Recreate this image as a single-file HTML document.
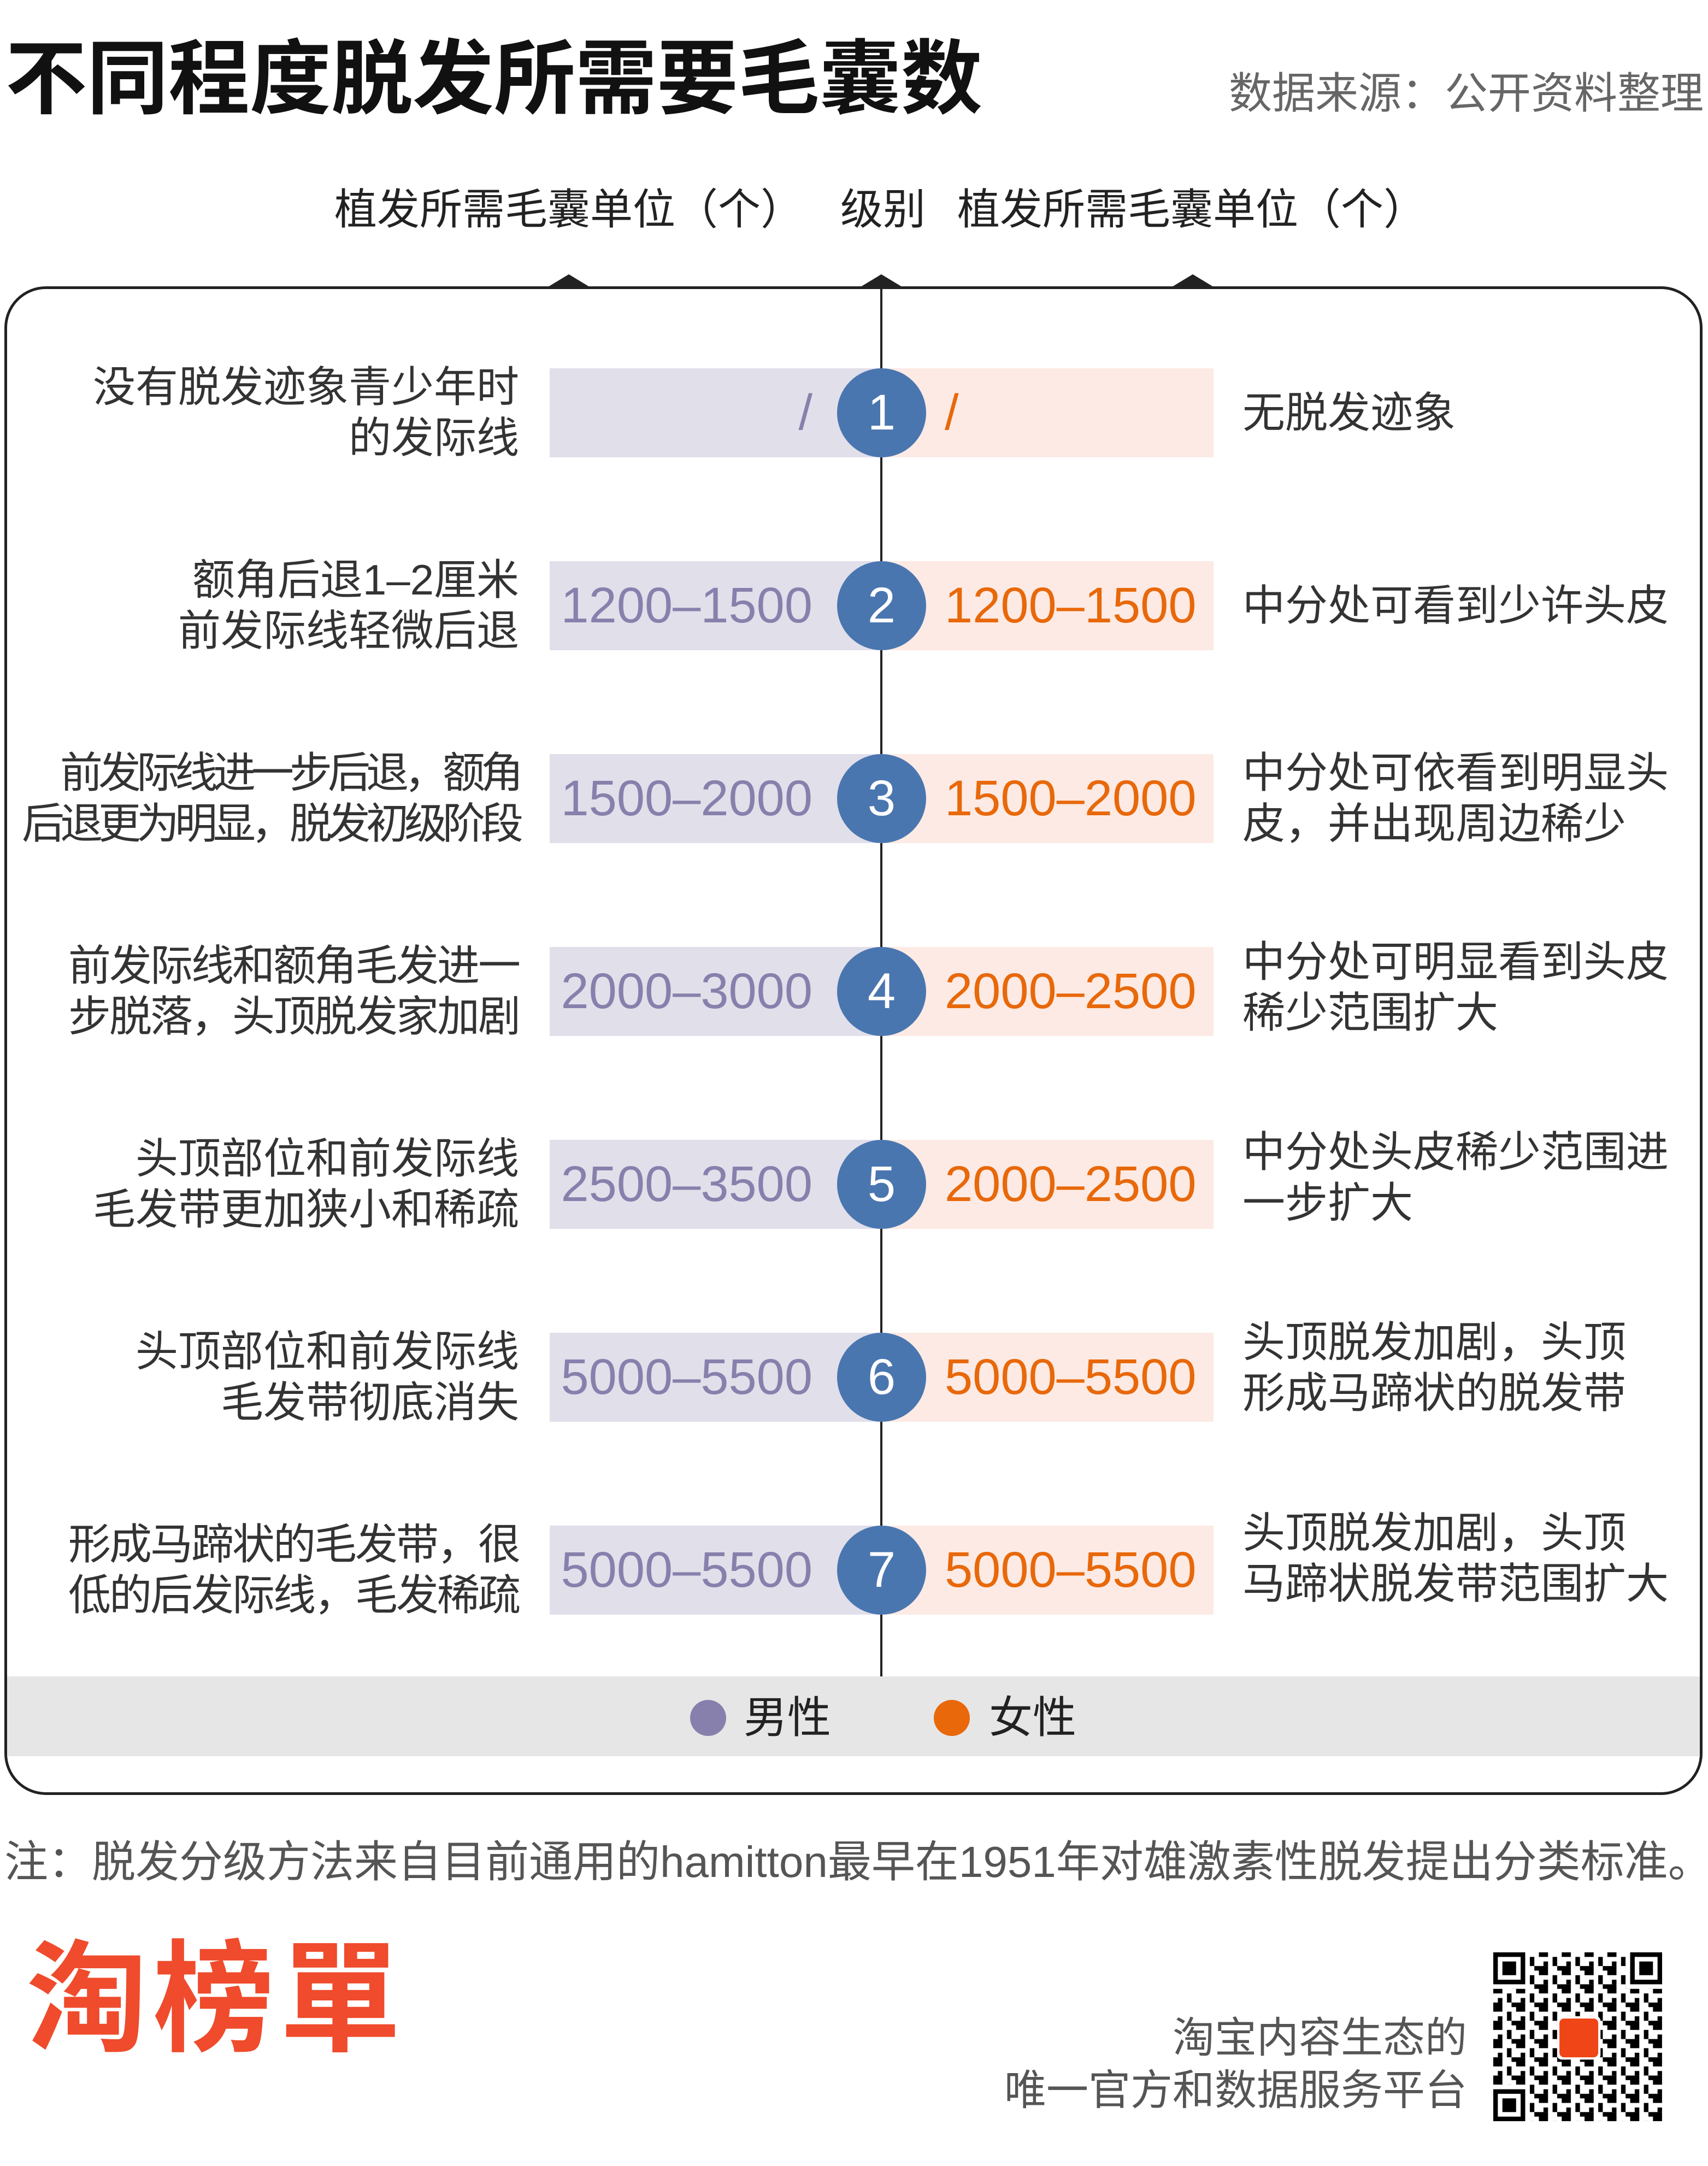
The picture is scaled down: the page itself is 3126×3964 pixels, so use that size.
<!DOCTYPE html>
<html><head><meta charset="utf-8">
<style>
*{margin:0;padding:0;box-sizing:border-box}
body{width:3126px;height:3964px;background:#fff;position:relative;overflow:hidden;font-family:"Liberation Sans","Noto Sans CJK SC",sans-serif;color:#333}
.a{position:absolute;white-space:nowrap}
.lt{position:absolute;right:2176px;text-align:right;font-size:78px;line-height:93px;color:#333;white-space:nowrap}
.rt{position:absolute;left:2274px;text-align:left;font-size:78px;line-height:93px;color:#333;white-space:nowrap}
.bl{position:absolute;left:1006px;width:607px;height:163px;background:#e1dfea}
.br{position:absolute;left:1613px;width:608px;height:163px;background:#fdeae4}
.c{position:absolute;left:1532px;width:163px;height:163px;border-radius:50%;background:#4a76b0;color:#fff;font-size:92px;line-height:163px;text-align:center}
.nl{position:absolute;right:1639px;font-size:92px;line-height:163px;color:#8880ac;white-space:nowrap}
.nr{position:absolute;left:1729px;font-size:92px;line-height:163px;color:#e8680a;white-space:nowrap}
</style></head><body>
<div class="a" style="left:10px;top:60px;font-size:149px;font-weight:bold;color:#111;line-height:170px">不同程度脱发所需要毛囊数</div>
<div class="a" style="right:8px;top:125px;font-size:79px;color:#666;line-height:92px">数据来源：公开资料整理</div>
<div class="a" style="left:612px;top:336px;font-size:78px;line-height:94px;color:#222">植发所需毛囊单位（个）</div>
<div class="a" style="left:1538px;top:336px;font-size:78px;line-height:94px;color:#222">级别</div>
<div class="a" style="left:1752px;top:336px;font-size:78px;line-height:94px;color:#222">植发所需毛囊单位（个）</div>

<div class="a" style="left:8px;top:524px;width:3108px;height:2761px;border:5px solid #222;border-radius:76px"></div>
<svg class="a" style="left:0;top:0" width="3126" height="600">
<polygon points="1003,525 1041,502 1079,525" fill="#222"/>
<polygon points="1575,525 1613,502 1651,525" fill="#222"/>
<polygon points="2145,525 2183,502 2221,525" fill="#222"/>
</svg>
<div class="a" style="left:1611px;top:524px;width:4px;height:2544px;background:#222"></div>
<div class="a" style="left:13px;top:3068px;width:3098px;height:146px;background:#e6e6e6"></div>
<div class="a" style="left:1263px;top:3111px;width:66px;height:66px;border-radius:50%;background:#8880ac"></div>
<div class="a" style="left:1361px;top:3097px;font-size:80px;line-height:94px;color:#222">男性</div>
<div class="a" style="left:1709px;top:3111px;width:66px;height:66px;border-radius:50%;background:#e8680a"></div>
<div class="a" style="left:1810px;top:3097px;font-size:80px;line-height:94px;color:#222">女性</div>

<div class="bl" style="top:674px"></div><div class="br" style="top:674px"></div><div class="c" style="top:674px">1</div>
<div class="nl" style="top:674px">/</div><div class="nr" style="top:674px">/</div>
<div class="lt" style="top:662px">没有脱发迹象青少年时<br>的发际线</div>
<div class="rt" style="top:709px">无脱发迹象</div>

<div class="bl" style="top:1027px"></div><div class="br" style="top:1027px"></div><div class="c" style="top:1027px">2</div>
<div class="nl" style="top:1027px">1200–1500</div><div class="nr" style="top:1027px">1200–1500</div>
<div class="lt" style="top:1015px">额角后退1–2厘米<br>前发际线轻微后退</div>
<div class="rt" style="top:1062px">中分处可看到少许头皮</div>

<div class="bl" style="top:1380px"></div><div class="br" style="top:1380px"></div><div class="c" style="top:1380px">3</div>
<div class="nl" style="top:1380px">1500–2000</div><div class="nr" style="top:1380px">1500–2000</div>
<div class="lt" style="top:1368px;letter-spacing:-8px">前发际线进一步后退，额角<br>后退更为明显，脱发初级阶段</div>
<div class="rt" style="top:1368px">中分处可依看到明显头<br>皮，并出现周边稀少</div>

<div class="bl" style="top:1733px"></div><div class="br" style="top:1733px"></div><div class="c" style="top:1733px">4</div>
<div class="nl" style="top:1733px">2000–3000</div><div class="nr" style="top:1733px">2000–2500</div>
<div class="lt" style="top:1721px;letter-spacing:-3px">前发际线和额角毛发进一<br>步脱落，头顶脱发家加剧</div>
<div class="rt" style="top:1714px">中分处可明显看到头皮<br>稀少范围扩大</div>

<div class="bl" style="top:2086px"></div><div class="br" style="top:2086px"></div><div class="c" style="top:2086px">5</div>
<div class="nl" style="top:2086px">2500–3500</div><div class="nr" style="top:2086px">2000–2500</div>
<div class="lt" style="top:2074px">头顶部位和前发际线<br>毛发带更加狭小和稀疏</div>
<div class="rt" style="top:2062px">中分处头皮稀少范围进<br>一步扩大</div>

<div class="bl" style="top:2439px"></div><div class="br" style="top:2439px"></div><div class="c" style="top:2439px">6</div>
<div class="nl" style="top:2439px">5000–5500</div><div class="nr" style="top:2439px">5000–5500</div>
<div class="lt" style="top:2427px">头顶部位和前发际线<br>毛发带彻底消失</div>
<div class="rt" style="top:2410px">头顶脱发加剧，头顶<br>形成马蹄状的脱发带</div>

<div class="bl" style="top:2792px"></div><div class="br" style="top:2792px"></div><div class="c" style="top:2792px">7</div>
<div class="nl" style="top:2792px">5000–5500</div><div class="nr" style="top:2792px">5000–5500</div>
<div class="lt" style="top:2780px;letter-spacing:-3px">形成马蹄状的毛发带，很<br>低的后发际线，毛发稀疏</div>
<div class="rt" style="top:2759px">头顶脱发加剧，头顶<br>马蹄状脱发带范围扩大</div>

<div class="a" style="left:8px;top:3362px;font-size:80px;line-height:92px;color:#555">注：脱发分级方法来自目前通用的hamitton最早在1951年对雄激素性脱发提出分类标准。</div>

<div class="a" style="left:48px;top:3530px;font-size:222px;line-height:260px;font-weight:bold;color:#ef4b2c;letter-spacing:10px">淘榜單</div>
<div class="a" style="right:441px;top:3684px;font-size:77px;line-height:92px;color:#555;text-align:right">淘宝内容生态的</div>
<div class="a" style="right:441px;top:3780px;font-size:77px;line-height:92px;color:#555;text-align:right">唯一官方和数据服务平台</div>

<svg class="a" style="left:2733px;top:3573px" width="309" height="309" viewBox="0 0 37 37">
<defs><pattern id="p" width="5" height="4" patternUnits="userSpaceOnUse">
<rect x="0" y="0" width="2" height="1" fill="#000"/><rect x="3" y="1" width="1" height="2" fill="#000"/><rect x="1" y="2" width="1" height="1" fill="#000"/><rect x="4" y="3" width="1" height="1" fill="#000"/><rect x="0" y="3" width="2" height="1" fill="#000"/>
</pattern></defs>
<rect x="0" y="0" width="37" height="37" fill="url(#p)"/>
<rect x="0" y="0" width="8" height="8" fill="#fff"/><rect x="29" y="0" width="8" height="8" fill="#fff"/><rect x="0" y="29" width="8" height="8" fill="#fff"/>
<g fill="none" stroke="#000"><rect x="0.5" y="0.5" width="6" height="6"/><rect x="30.5" y="0.5" width="6" height="6"/><rect x="0.5" y="30.5" width="6" height="6"/></g>
<rect x="2" y="2" width="3" height="3"/><rect x="32" y="2" width="3" height="3"/><rect x="2" y="32" width="3" height="3"/>
<rect x="14" y="14" width="9.5" height="9.5" fill="#fff" rx="1"/>
<rect x="14.5" y="14.5" width="8.5" height="8.5" fill="#f04516" rx="1"/>
</svg>
</body></html>
